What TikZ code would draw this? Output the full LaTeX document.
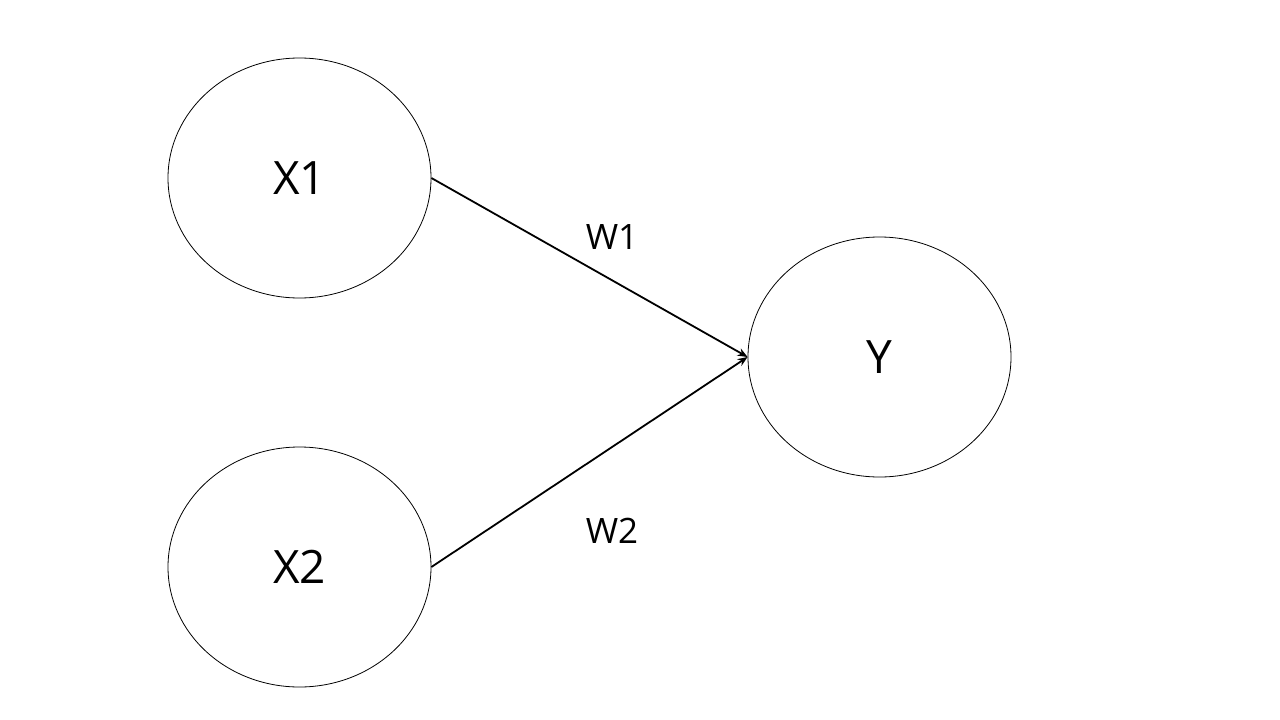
\documentclass[tikz,border=0pt]{standalone}
\usepackage{fontspec}
\setmainfont{Open Sans}
\usetikzlibrary{arrows.meta,shapes.geometric}
\begin{document}
\begin{tikzpicture}[x=1pt,y=-1pt,
  neuron/.style={draw,line width=0.8pt,ellipse,minimum width=263pt,minimum height=240pt,inner sep=0pt,font=\fontsize{46}{52}\selectfont},
  conn/.style={line width=1.8pt,-{Stealth[length=10pt,width=8pt]}},
  wlabel/.style={font=\fontsize{35}{40}\selectfont}]
\useasboundingbox (0,0) rectangle (1280,720);
\node[neuron] (x1) at (299.5,178) {X1};
\node[neuron] (x2) at (299.5,567) {X2};
\node[neuron] (y) at (879.5,357) {Y};
\draw[conn] (x1.east) -- (y.west);
\draw[conn] (x2.east) -- (y.west);
\node[wlabel] (w1) at (612,237) {W1};
\node[wlabel] (w2) at (612,531) {W2};
\end{tikzpicture}
\end{document}
